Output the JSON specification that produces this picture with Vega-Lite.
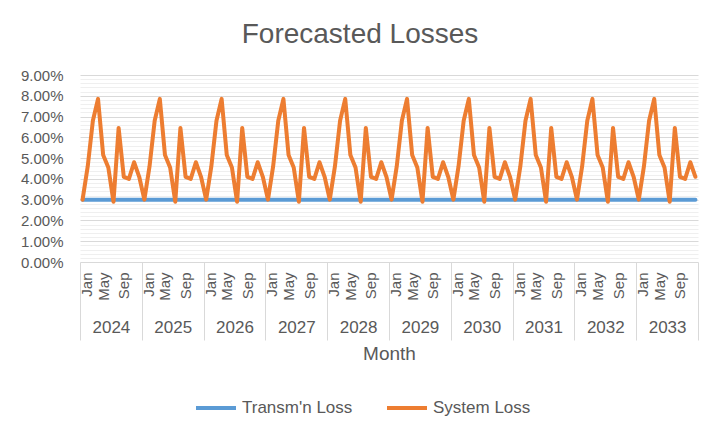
{
  "$schema": "https://vega.github.io/schema/vega-lite/v6.json",
  "autosize": {"type": "none"},
  "width": 618,
  "height": 187,
  "padding": {"left": 80, "top": 75, "right": 25, "bottom": 175},
  "background": "white",
  "config": {"font": "Liberation Sans", "view": {"stroke": null}},
  "title": {"text": "Forecasted Losses", "fontSize": 28, "fontWeight": "normal", "color": "#595959", "anchor": "middle", "dx": -29, "offset": 19},
  "data": {"values": [
    {"i":0,"tl":0.03,"sl":0.03},{"i":1,"tl":0.03,"sl":0.046},{"i":2,"tl":0.03,"sl":0.068},{"i":3,"tl":0.03,"sl":0.0785},{"i":4,"tl":0.03,"sl":0.0515},{"i":5,"tl":0.03,"sl":0.0455},{"i":6,"tl":0.03,"sl":0.029},{"i":7,"tl":0.03,"sl":0.0645},{"i":8,"tl":0.03,"sl":0.041},{"i":9,"tl":0.03,"sl":0.04},{"i":10,"tl":0.03,"sl":0.048},{"i":11,"tl":0.03,"sl":0.041},
    {"i":12,"tl":0.03,"sl":0.03},{"i":13,"tl":0.03,"sl":0.046},{"i":14,"tl":0.03,"sl":0.068},{"i":15,"tl":0.03,"sl":0.0785},{"i":16,"tl":0.03,"sl":0.0515},{"i":17,"tl":0.03,"sl":0.0455},{"i":18,"tl":0.03,"sl":0.029},{"i":19,"tl":0.03,"sl":0.0645},{"i":20,"tl":0.03,"sl":0.041},{"i":21,"tl":0.03,"sl":0.04},{"i":22,"tl":0.03,"sl":0.048},{"i":23,"tl":0.03,"sl":0.041},
    {"i":24,"tl":0.03,"sl":0.03},{"i":25,"tl":0.03,"sl":0.046},{"i":26,"tl":0.03,"sl":0.068},{"i":27,"tl":0.03,"sl":0.0785},{"i":28,"tl":0.03,"sl":0.0515},{"i":29,"tl":0.03,"sl":0.0455},{"i":30,"tl":0.03,"sl":0.029},{"i":31,"tl":0.03,"sl":0.0645},{"i":32,"tl":0.03,"sl":0.041},{"i":33,"tl":0.03,"sl":0.04},{"i":34,"tl":0.03,"sl":0.048},{"i":35,"tl":0.03,"sl":0.041},
    {"i":36,"tl":0.03,"sl":0.03},{"i":37,"tl":0.03,"sl":0.046},{"i":38,"tl":0.03,"sl":0.068},{"i":39,"tl":0.03,"sl":0.0785},{"i":40,"tl":0.03,"sl":0.0515},{"i":41,"tl":0.03,"sl":0.0455},{"i":42,"tl":0.03,"sl":0.029},{"i":43,"tl":0.03,"sl":0.0645},{"i":44,"tl":0.03,"sl":0.041},{"i":45,"tl":0.03,"sl":0.04},{"i":46,"tl":0.03,"sl":0.048},{"i":47,"tl":0.03,"sl":0.041},
    {"i":48,"tl":0.03,"sl":0.03},{"i":49,"tl":0.03,"sl":0.046},{"i":50,"tl":0.03,"sl":0.068},{"i":51,"tl":0.03,"sl":0.0785},{"i":52,"tl":0.03,"sl":0.0515},{"i":53,"tl":0.03,"sl":0.0455},{"i":54,"tl":0.03,"sl":0.029},{"i":55,"tl":0.03,"sl":0.0645},{"i":56,"tl":0.03,"sl":0.041},{"i":57,"tl":0.03,"sl":0.04},{"i":58,"tl":0.03,"sl":0.048},{"i":59,"tl":0.03,"sl":0.041},
    {"i":60,"tl":0.03,"sl":0.03},{"i":61,"tl":0.03,"sl":0.046},{"i":62,"tl":0.03,"sl":0.068},{"i":63,"tl":0.03,"sl":0.0785},{"i":64,"tl":0.03,"sl":0.0515},{"i":65,"tl":0.03,"sl":0.0455},{"i":66,"tl":0.03,"sl":0.029},{"i":67,"tl":0.03,"sl":0.0645},{"i":68,"tl":0.03,"sl":0.041},{"i":69,"tl":0.03,"sl":0.04},{"i":70,"tl":0.03,"sl":0.048},{"i":71,"tl":0.03,"sl":0.041},
    {"i":72,"tl":0.03,"sl":0.03},{"i":73,"tl":0.03,"sl":0.046},{"i":74,"tl":0.03,"sl":0.068},{"i":75,"tl":0.03,"sl":0.0785},{"i":76,"tl":0.03,"sl":0.0515},{"i":77,"tl":0.03,"sl":0.0455},{"i":78,"tl":0.03,"sl":0.029},{"i":79,"tl":0.03,"sl":0.0645},{"i":80,"tl":0.03,"sl":0.041},{"i":81,"tl":0.03,"sl":0.04},{"i":82,"tl":0.03,"sl":0.048},{"i":83,"tl":0.03,"sl":0.041},
    {"i":84,"tl":0.03,"sl":0.03},{"i":85,"tl":0.03,"sl":0.046},{"i":86,"tl":0.03,"sl":0.068},{"i":87,"tl":0.03,"sl":0.0785},{"i":88,"tl":0.03,"sl":0.0515},{"i":89,"tl":0.03,"sl":0.0455},{"i":90,"tl":0.03,"sl":0.029},{"i":91,"tl":0.03,"sl":0.0645},{"i":92,"tl":0.03,"sl":0.041},{"i":93,"tl":0.03,"sl":0.04},{"i":94,"tl":0.03,"sl":0.048},{"i":95,"tl":0.03,"sl":0.041},
    {"i":96,"tl":0.03,"sl":0.03},{"i":97,"tl":0.03,"sl":0.046},{"i":98,"tl":0.03,"sl":0.068},{"i":99,"tl":0.03,"sl":0.0785},{"i":100,"tl":0.03,"sl":0.0515},{"i":101,"tl":0.03,"sl":0.0455},{"i":102,"tl":0.03,"sl":0.029},{"i":103,"tl":0.03,"sl":0.0645},{"i":104,"tl":0.03,"sl":0.041},{"i":105,"tl":0.03,"sl":0.04},{"i":106,"tl":0.03,"sl":0.048},{"i":107,"tl":0.03,"sl":0.041},
    {"i":108,"tl":0.03,"sl":0.03},{"i":109,"tl":0.03,"sl":0.046},{"i":110,"tl":0.03,"sl":0.068},{"i":111,"tl":0.03,"sl":0.0785},{"i":112,"tl":0.03,"sl":0.0515},{"i":113,"tl":0.03,"sl":0.0455},{"i":114,"tl":0.03,"sl":0.029},{"i":115,"tl":0.03,"sl":0.0645},{"i":116,"tl":0.03,"sl":0.041},{"i":117,"tl":0.03,"sl":0.04},{"i":118,"tl":0.03,"sl":0.048},{"i":119,"tl":0.03,"sl":0.041}
  ]},
  "transform": [{"fold": ["tl", "sl"], "as": ["series", "v"]}],
  "layer": [
    {
      "mark": {"type": "line", "strokeWidth": 4, "strokeJoin": "round", "strokeCap": "round"},
      "encoding": {
        "x": {
          "field": "i", "type": "quantitative",
          "scale": {"domain": [-0.5, 119.5], "nice": false, "zero": false},
          "axis": {
            "orient": "bottom",
            "values": [0,4,8,12,16,20,24,28,32,36,40,44,48,52,56,60,64,68,72,76,80,84,88,92,96,100,104,108,112,116],
            "labelExpr": "['Jan','May','Sep'][(datum.value % 12) / 4]",
            "labelOffset": {"condition": {"test": "datum.value % 12 == 0", "value": 4}, "value": 0},
            "labelAngle": -90, "labelPadding": 10, "labelFontSize": 15, "labelColor": "#595959",
            "ticks": false, "domain": false, "grid": false, "title": null, "labelOverlap": false, "labelFlush": false
          }
        },
        "y": {
          "field": "v", "type": "quantitative",
          "scale": {"domain": [0, 0.09], "nice": false},
          "axis": {
            "values": [0,0.002,0.004,0.006,0.008,0.01,0.012,0.014,0.016,0.018,0.02,0.022,0.024,0.026,0.028,0.03,0.032,0.034,0.036,0.038,0.04,0.042,0.044,0.046,0.048,0.05,0.052,0.054,0.056,0.058,0.06,0.062,0.064,0.066,0.068,0.07,0.072,0.074,0.076,0.078,0.08,0.082,0.084,0.086,0.088,0.09],
            "labelExpr": "round(datum.value * 1000) % 10 == 0 ? format(datum.value, '.2%') : ''",
            "labelOverlap": false, "labelFontSize": 15, "labelColor": "#595959", "labelPadding": 17,
            "ticks": false, "domain": false, "title": null,
            "gridColor": {"condition": {"test": "round(datum.value * 1000) % 10 == 0", "value": "#d9d9d9"}, "value": "#efefef"},
            "gridWidth": 1
          }
        },
        "color": {
          "field": "series", "type": "nominal",
          "scale": {"domain": ["tl", "sl"], "range": ["#5B9BD5", "#ED7D31"]},
          "legend": {
            "orient": "none", "legendX": 114, "legendY": 311, "direction": "horizontal", "title": null,
            "labelExpr": "datum.label == 'tl' ? 'Transm\\'n Loss' : 'System Loss'",
            "symbolType": "stroke", "symbolSize": 1600, "symbolStrokeWidth": 4,
            "labelFontSize": 17, "labelColor": "#595959", "labelOffset": 4, "columnPadding": 26
          }
        }
      }
    },
    {
      "mark": {"type": "point", "opacity": 0},
      "encoding": {
        "x": {
          "field": "i", "type": "quantitative",
          "axis": {
            "orient": "bottom",
            "values": [5.5,17.5,29.5,41.5,53.5,65.5,77.5,89.5,101.5,113.5],
            "labelExpr": "'' + (2024 + (datum.value - 5.5) / 12)",
            "labelPadding": 57, "labelFontSize": 17, "labelColor": "#595959", "labelBaseline": "top",
            "ticks": false, "domain": false, "grid": false, "labelOverlap": false, "labelFlush": false,
            "title": "Month", "titleFontSize": 19, "titleFontWeight": "normal", "titleColor": "#595959", "titlePadding": 9
          }
        }
      }
    },
    {
      "mark": {"type": "point", "opacity": 0},
      "encoding": {
        "x": {
          "field": "i", "type": "quantitative",
          "axis": {
            "orient": "bottom",
            "values": [-0.5,11.5,23.5,35.5,47.5,59.5,71.5,83.5,95.5,107.5,119.5],
            "labels": false, "ticks": true, "tickSize": 78, "tickColor": "#d9d9d9", "tickWidth": 1,
            "domain": false, "grid": false, "title": null
          }
        }
      }
    }
  ],
  "resolve": {"axis": {"x": "independent"}}
}
